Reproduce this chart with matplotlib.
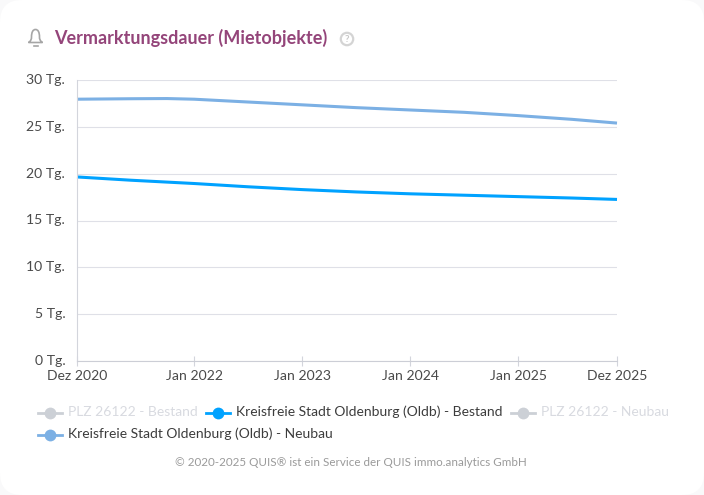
import matplotlib
matplotlib.use('Agg')
import matplotlib.pyplot as plt
from matplotlib.patches import FancyBboxPatch, Circle, PathPatch
from matplotlib.path import Path
from matplotlib.lines import Line2D

W, H = 704, 495
plt.rcParams['font.family'] = ['Lato', 'DejaVu Sans']

# Monate seit Dez 2020
months = [0, 6, 10, 13, 19, 25, 31, 37, 43, 49, 55, 60]
neubau = [27.95, 28.0, 28.02, 27.95, 27.65, 27.35, 27.05, 26.8, 26.55, 26.2, 25.8, 25.4]
bestand = [19.65, 19.3, 19.1, 18.95, 18.6, 18.3, 18.05, 17.85, 17.7, 17.55, 17.4, 17.25]

y_ticks = [0, 5, 10, 15, 20, 25, 30]
y_labels = ['0 Tg.', '5 Tg.', '10 Tg.', '15 Tg.', '20 Tg.', '25 Tg.', '30 Tg.']
x_ticks = [0, 13, 25, 37, 49, 60]
x_labels = ['Dez 2020', 'Jan 2022', 'Jan 2023', 'Jan 2024', 'Jan 2025', 'Dez 2025']

BLUE = '#00a2ff'
LIGHTBLUE = '#7cb0e4'
GREY = '#ccd0d6'

fig = plt.figure(figsize=(W / 100, H / 100), dpi=100, facecolor='#f9f9fa')

# Karte und Overlay in Pixelkoordinaten
bg = fig.add_axes([0, 0, 1, 1], zorder=0)
bg.set_xlim(0, W)
bg.set_ylim(H, 0)
bg.axis('off')
bg.add_patch(FancyBboxPatch((0, 0), W, H, boxstyle='round,pad=0,rounding_size=22',
                            fc='white', ec='none'))

ax = fig.add_axes([77 / W, 1 - 361 / H, 540 / W, 281 / H], zorder=1)
ax.patch.set_alpha(0)
ax.plot(months, neubau, color=LIGHTBLUE, lw=2.2, solid_capstyle='butt', clip_on=False)
ax.plot(months, bestand, color=BLUE, lw=2.2, solid_capstyle='butt', clip_on=False)
ax.set_xlim(0, 60)
ax.set_ylim(0, 30)
ax.set_yticks(y_ticks, y_labels)
ax.set_xticks(x_ticks, x_labels)
ax.grid(axis='y', color='#dfe0e7', lw=0.8)
ax.set_axisbelow(True)
for s in ['top', 'right']:
    ax.spines[s].set_visible(False)
ax.spines['left'].set_color('#d3d5dc')
ax.spines['bottom'].set_color('#ccced6')
ax.spines['left'].set_linewidth(0.8)
ax.spines['bottom'].set_linewidth(0.8)
ax.tick_params(axis='y', length=0, pad=8.5, labelsize=10.1, labelcolor='#4a4a4a')
ax.tick_params(axis='x', direction='inout', length=6.5, width=0.8, color='#d3d5dc',
               pad=3.5, labelsize=10.1, labelcolor='#4a4a4a')
for t in ax.get_yticklabels():
    t.set_verticalalignment('center')

ov = fig.add_axes([0, 0, 1, 1], zorder=2)
ov.set_xlim(0, W)
ov.set_ylim(H, 0)
ov.axis('off')

# Titel
ov.text(54.5, 37.5, 'Vermarktungsdauer (Mietobjekte)', color='#94457a', fontsize=13,
        fontweight='bold', va='center', ha='left')

# Glocke
bell = Path([(28.5, 42.5),
             (31, 41), (31.5, 39), (31.5, 37),
             (31.5, 32), (33, 29.5), (35.5, 29.5),
             (38, 29.5), (39.5, 32), (39.5, 37),
             (39.5, 39), (40, 41), (42.5, 42.5),
             (28.5, 42.5)],
            [Path.MOVETO] + [Path.CURVE4] * 12 + [Path.CLOSEPOLY])
ov.add_patch(PathPatch(bell, fc='none', ec='#a6a6a6', lw=1.2))
ov.plot([33.5, 37.5], [45.5, 45.5], color='#a6a6a6', lw=1.2)

# Hilfe-Symbol
ov.add_patch(Circle((347, 39), 6.2, fc='none', ec='#d4d4d4', lw=1.6))
ov.text(347, 39, '?', color='#c8c8c8', fontsize=7, fontweight='bold', ha='center', va='center')

# Legende
legend_items = [
    ('PLZ 26122 - Bestand', 37, 412, GREY, '#d8dae0'),
    ('Kreisfreie Stadt Oldenburg (Oldb) - Bestand', 205, 412, BLUE, '#3c3c3c'),
    ('PLZ 26122 - Neubau', 510, 412, GREY, '#d8dae0'),
    ('Kreisfreie Stadt Oldenburg (Oldb) - Neubau', 37, 434, LIGHTBLUE, '#3c3c3c'),
]
for label, lx, ly, c, tc in legend_items:
    ov.add_line(Line2D([lx + 1, lx + 25], [ly + 0.5, ly + 0.5], color=c, lw=2))
    ov.add_line(Line2D([lx + 13], [ly + 0.5], marker='o', ms=8.5, color=c, mec='none'))
    ov.text(lx + 31, ly, label, color=tc, fontsize=10.0, va='center', ha='left')

ov.text(350.5, 463, '© 2020-2025 QUIS® ist ein Service der QUIS immo.analytics GmbH',
        color='#9a9a9a', fontsize=8.4, ha='center', va='center')

fig.savefig('out.png', dpi=100, facecolor=fig.get_facecolor())
